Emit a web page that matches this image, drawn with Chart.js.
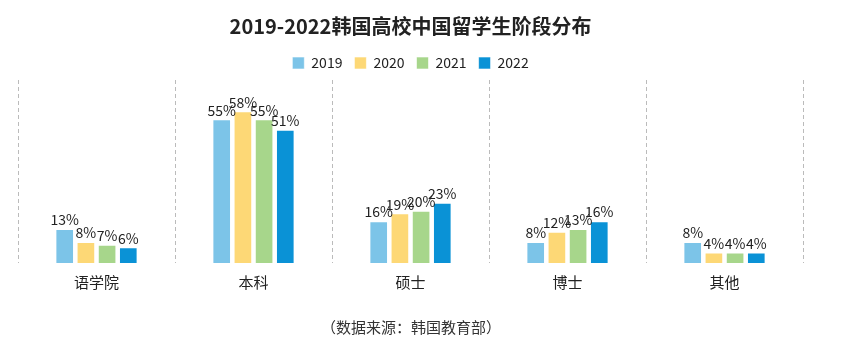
<!DOCTYPE html>
<html>
<head>
<meta charset="utf-8">
<script src="https://cdn.jsdelivr.net/npm/chart.js@4"></script>
<style>
  body { margin: 0; background: #fff; }
  #wrap { width: 842px; height: 362px; position: relative; }
</style>
</head>
<body>
<div id="wrap"><canvas id="chart"></canvas></div>
<script>
var categories = ['语学院', '本科', '硕士', '博士', '其他'];
var seriesNames = ['2019', '2020', '2021', '2022'];
var values2019 = [13, 55, 16, 8, 8];
var values2020 = [8, 58, 19, 12, 4];
var values2021 = [7, 55, 20, 13, 4];
var values2022 = [6, 51, 23, 16, 4];
var colors = ['#7cc4e8', '#fdd876', '#a7d68b', '#0a92d6'];
var sourceText = '（数据来源：韩国教育部）';

var FONT = '"Noto Sans CJK SC", "Noto Sans", sans-serif';

// draws the % labels above bars and the source note
var labelPlugin = {
    id: 'barLabels',
    afterDatasetsDraw: function(chart) {
        var ctx = chart.ctx;
        ctx.save();
        ctx.font = '14px ' + FONT;
        ctx.fillStyle = '#222';
        ctx.textAlign = 'center';
        ctx.textBaseline = 'bottom';
        chart.data.datasets.forEach(function(ds, i) {
            var meta = chart.getDatasetMeta(i);
            meta.data.forEach(function(bar, j) {
                ctx.fillText(ds.data[j] + '%', bar.x, bar.y - 2);
            });
        });
        ctx.font = '15px ' + FONT;
        ctx.fillStyle = '#333';
        ctx.textBaseline = 'middle';
        ctx.fillText(sourceText, 411, 327);
        ctx.restore();
    }
};

var allSeries = [values2019, values2020, values2021, values2022];

var ctx = document.getElementById('chart');
new Chart(ctx, {
    type: 'bar',
    data: {
        labels: categories,
        datasets: seriesNames.map(function(name, i) {
            return {
                label: name,
                data: allSeries[i],
                backgroundColor: colors[i],
                borderColor: 'rgba(255,255,255,0.6)',
                borderWidth: 1,
                barPercentage: 0.88,
                categoryPercentage: 0.54
            };
        })
    },
    plugins: [labelPlugin],
    options: {
        responsive: true,
        maintainAspectRatio: false,
        animation: false,
        layout: {
            padding: { left: 18, right: 39, top: 10, bottom: 61 }
        },
        plugins: {
            title: {
                display: true,
                text: '2019-2022韩国高校中国留学生阶段分布',
                color: '#222',
                font: { family: FONT, size: 20, weight: 'bold' },
                padding: { top: 4, bottom: 6 }
            },
            legend: {
                labels: {
                    boxWidth: 12,
                    boxHeight: 12,
                    color: '#222',
                    font: { family: FONT, size: 14 },
                    padding: 12
                }
            },
            tooltip: { enabled: false }
        },
        scales: {
            x: {
                grid: {
                    offset: true,
                    drawTicks: false,
                    color: '#bbbbbb',
                    lineWidth: 1
                },
                border: { display: false, dash: [4, 3] },
                ticks: {
                    color: '#222',
                    font: { family: FONT, size: 15 },
                    padding: 10
                }
            },
            y: {
                display: false,
                min: 0,
                max: 70
            }
        }
    }
});
</script>
</body>
</html>
